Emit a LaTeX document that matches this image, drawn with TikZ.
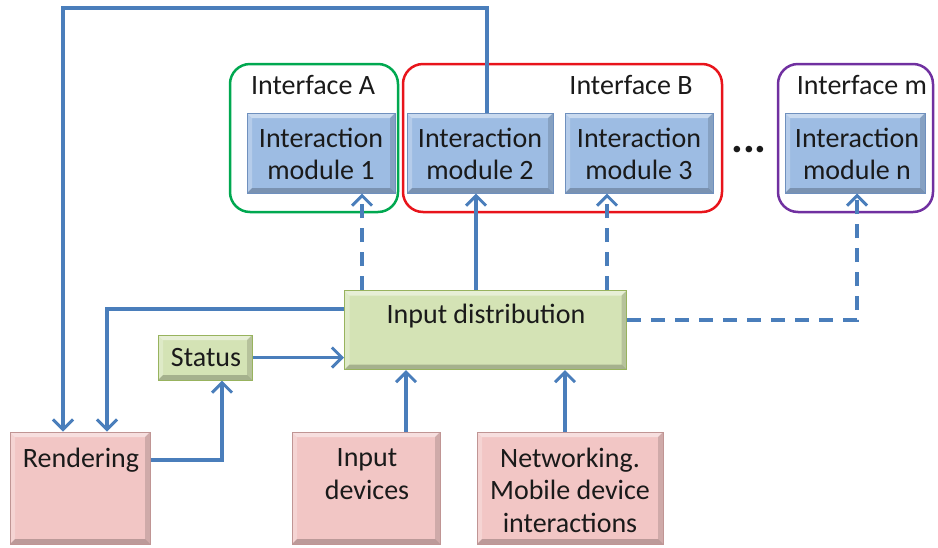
\documentclass[tikz,border=0pt]{standalone}
\usepackage{fontspec}
\setmainfont{Carlito}
\usetikzlibrary{arrows.meta}
\definecolor{lineblue}{HTML}{4A7EBB}
\definecolor{modfill}{HTML}{9DBCE3}
\definecolor{modedge}{HTML}{6F90BE}
\definecolor{grnfill}{HTML}{D4E3B5}
\definecolor{grnedge}{HTML}{98B35E}
\definecolor{pnkfill}{HTML}{F2C6C5}
\definecolor{pnkedge}{HTML}{C09594}
\definecolor{ifgreen}{HTML}{00A850}
\definecolor{ifred}{HTML}{E8141B}
\definecolor{ifpurple}{HTML}{7030A0}
\definecolor{txt}{HTML}{1A1A1A}
\begin{document}
\begin{tikzpicture}[x=1pt,y=-1pt,
  every node/.style={font=\fontsize{28}{32.5}\selectfont, text=txt, inner sep=0pt},
  bevel/.style={path picture={
    \fill[white, opacity=.45] (path picture bounding box.north west) -- (path picture bounding box.north east)
      -- ([shift={(-5,5)}]path picture bounding box.north east) -- ([shift={(5,5)}]path picture bounding box.north west) -- cycle;
    \fill[white, opacity=.25] (path picture bounding box.north west) -- ([shift={(5,5)}]path picture bounding box.north west)
      -- ([shift={(5,-5)}]path picture bounding box.south west) -- (path picture bounding box.south west) -- cycle;
    \fill[black, opacity=.22] (path picture bounding box.south west) -- (path picture bounding box.south east)
      -- ([shift={(-5,-5)}]path picture bounding box.south east) -- ([shift={(5,-5)}]path picture bounding box.south west) -- cycle;
    \fill[black, opacity=.14] (path picture bounding box.north east) -- ([shift={(-5,5)}]path picture bounding box.north east)
      -- ([shift={(-5,-5)}]path picture bounding box.south east) -- (path picture bounding box.south east) -- cycle;
  }},
  ifbox/.style={rounded corners=20pt, line width=2.5pt},
  modbox/.style={bevel, fill=modfill, draw=modedge, line width=1pt, align=center,
    minimum width=148pt, minimum height=80pt},
  grnbox/.style={bevel, fill=grnfill, draw=grnedge, line width=1pt, align=center},
  pnkbox/.style={bevel, fill=pnkfill, draw=pnkedge, line width=1pt},
  flow/.style={draw=lineblue, line width=3.5pt},
  arr/.style={flow, -{Straight Barb[length=10pt,width=20pt,line width=3pt]}},
  dashflow/.style={arr, dash pattern=on 14pt off 10pt}]
\useasboundingbox (0,0) rectangle (938,547);

% interface frames
\draw[ifbox, draw=ifgreen] (230,64) rectangle (398,212);
\draw[ifbox, draw=ifred] (403,64) rectangle (722,212);
\draw[ifbox, draw=ifpurple] (778,64) rectangle (933,212);
\node (labA) at (313,85) {Interface A};
\node (labB) at (631,85) {Interface B};
\node (labM) at (862,85) {Interface m};

% interaction modules
\node[modbox] (mod1) at (321,153) {};
\node (mod1txt) at (321,154) [align=center] {Interaction\\module 1};
\node[modbox, minimum width=146pt] (mod2) at (480,153) {};
\node (mod2txt) at (480,154) [align=center] {Interaction\\module 2};
\node[modbox] (mod3) at (639,153) {};
\node (mod3txt) at (639,154) [align=center] {Interaction\\module 3};
\node[modbox, minimum width=140pt] (modn) at (855,153) {};
\node (modntxt) at (857,154) [align=center] {Interaction\\module n};
\node[font=\fontsize{44}{44}\selectfont\bfseries] (dots) at (749,150) {...};

% middle row
\node[grnbox, minimum width=282pt, minimum height=79pt] (dist) at (485.5,330) {};
\node (disttxt) at (486,316) {Input distribution};
\node[grnbox, minimum width=94pt, minimum height=45pt] (status) at (205,357.5) {};
\node (statustxt) at (206,358) {Status};

% sources
\node[pnkbox, minimum width=140pt, minimum height=112pt] (rend) at (80,488) {};
\node (rendtxt) at (81,460) {Rendering};
\node[pnkbox, minimum width=148pt, minimum height=112pt] (inp) at (366,488) {};
\node[align=center] (inptxt) at (367,474) {Input\\devices};
\node[pnkbox, minimum width=186pt, minimum height=112pt] (net) at (570,488) {};
\node[align=center] (nettxt) at (570,490) {Networking.\\Mobile device\\interactions};

% connectors
\coordinate (topL) at (63,8);
\coordinate (topR) at (487,8);
\draw[arr] (topR |- mod2.north) -- (topR) -- (topL) -- (topL |- rend.north);

\coordinate (bend) at (107,309);
\draw[arr] (dist.west |- bend) -- (bend) -- (bend |- rend.north);

\coordinate (rsturn) at (222,460);
\draw[arr] (rend.east |- rsturn) -- (rsturn) -- (rsturn |- status.south);

\draw[arr] (status.east) -- (status.east -| dist.west);

\coordinate (inpx) at (406,0);
\draw[arr] (inpx |- inp.north) -- (inpx |- dist.south);
\coordinate (netx) at (565,0);
\draw[arr] (netx |- net.north) -- (netx |- dist.south);

\coordinate (m1x) at (362,0);
\draw[dashflow] (m1x |- dist.north) -- (m1x |- mod1.south);
\coordinate (m2x) at (476,0);
\draw[arr] (m2x |- dist.north) -- (m2x |- mod2.south);
\coordinate (m3x) at (607,0);
\draw[dashflow] (m3x |- dist.north) -- (m3x |- mod3.south);
\coordinate (mnturn) at (857,320);
\draw[dashflow] (dist.east |- mnturn) -- (mnturn) -- (mnturn |- modn.south);
\end{tikzpicture}
\end{document}
